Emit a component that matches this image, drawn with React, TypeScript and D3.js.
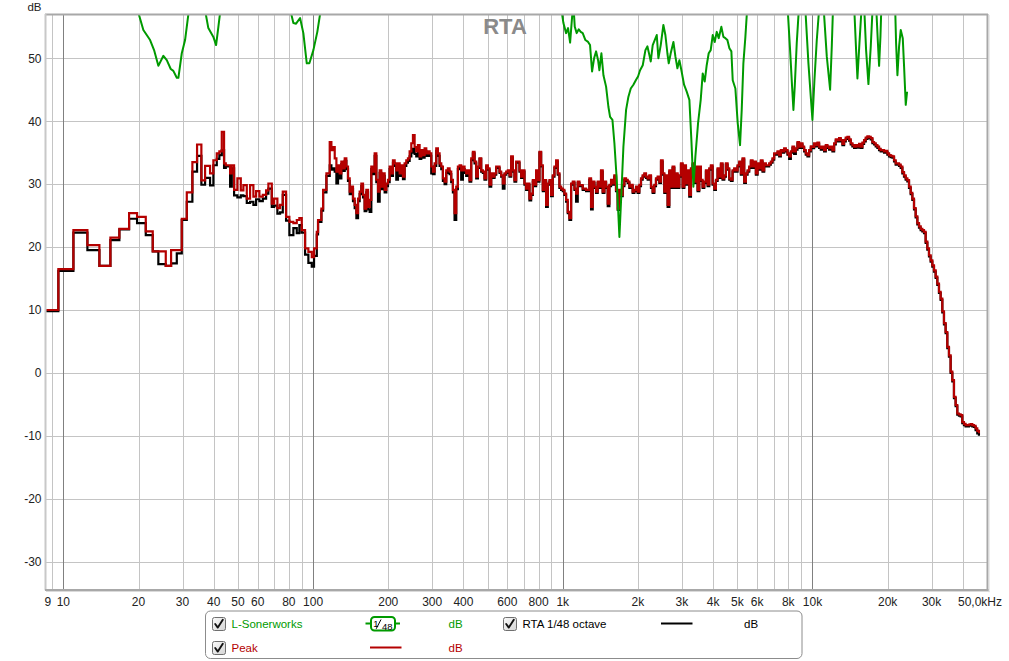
import React from "react";
import * as d3 from "d3";

// ---------- axis definitions ----------
const freqDomain = [8.52, 50000];
const dbDomain = [-34.39, 56.88];
const xTickValues = [9, 10, 20, 30, 40, 50, 60, 80, 100, 200, 300, 400, 600, 800, 1000, 2000, 3000, 4000, 5000, 6000, 8000, 10000, 20000, 30000, 50000];
const xTickLabels = ["9", "10", "20", "30", "40", "50", "60", "80", "100", "200", "300", "400", "600", "800", "1k", "2k", "3k", "4k", "5k", "6k", "8k", "10k", "20k", "30k", "50,0kHz"];
const majorGrid = [10, 100, 1000, 10000];
const minorGrid = [9, 20, 30, 40, 50, 60, 70, 80, 90, 200, 300, 400, 500, 600, 700, 800, 900, 2000, 3000, 4000, 5000, 6000, 7000, 8000, 9000, 20000, 30000, 40000];
const yTicks = [-30, -20, -10, 0, 10, 20, 30, 40, 50];

// ---------- RTA / Peak, low-frequency steps ----------
const lowFreq = [8.53, 9.55, 10.97, 12.48, 13.94, 15.43, 16.76, 18.33, 19.73, 21.38,
  22.8, 24.01, 25.71, 27.0, 28.46, 29.8, 31.21, 32.86, 34.31, 35.7,
  36.94, 38.68, 39.88, 41.15, 42.14, 43.09, 44.01, 44.71, 46.52, 47.25,
  48.27, 49.76, 51.35, 52.59, 54.27, 55.95, 57.68, 59.13, 60.96, 62.9,
  64.84, 66.23, 68.34, 69.81, 71.96, 73.77, 75.63, 77.96, 80.37, 83.39,
  86.04, 88.13, 90.1, 92.88, 95.76, 98.81, 100.9, 103.5];
const lowPeak = [10.0, 16.5, 22.7, 20.3, 17.0, 21.5, 22.9, 25.4, 24.8, 22.5,
  19.3, 19.3, 17.0, 19.5, 19.5, 24.5, 28.7, 33.5, 36.3, 30.6,
  32.9, 31.7, 33.8, 34.9, 35.2, 38.3, 33.3, 33.0, 31.7, 33.0,
  29.1, 30.9, 29.0, 29.85, 27.7, 29.85, 28.0, 28.9, 28.0, 28.3,
  29.0, 30.1, 26.9, 27.7, 26.2, 26.7, 28.8, 24.8, 24.0, 23.8,
  24.3, 24.6, 22.7, 19.8, 19.25, 18.4, 19.8, 22.4];
const lowRta = [9.8, 16.2, 22.3, 19.5, 17.0, 21.1, 22.8, 24.5, 23.8, 21.9,
  19.3, 17.3, 17.0, 17.4, 19.0, 24.3, 27.2, 32.0, 34.5, 29.9,
  31.0, 29.8, 33.0, 34.0, 34.6, 35.4, 32.6, 32.8, 29.6, 32.5,
  28.2, 27.9, 28.2, 28.1, 27.0, 27.2, 26.7, 27.6, 27.3, 27.7,
  28.5, 29.3, 26.4, 26.6, 25.3, 25.5, 28.3, 24.2, 21.9, 23.0,
  22.2, 23.5, 22.3, 18.8, 17.5, 16.9, 18.6, 22.0];

// ---------- RTA / Peak, 104 Hz .. 46 kHz ----------
const bandFreq = [104.7, 106.3, 108.0, 109.7, 111.4, 113.1, 114.8,
  116.6, 118.4, 120.2, 122.1, 124.0, 125.9, 127.8, 129.8, 131.8, 133.9,
  135.9, 138.0, 140.2, 142.3, 144.5, 146.8, 149.1, 151.4, 153.7, 156.1,
  158.5, 160.9, 163.4, 166.0, 168.5, 171.1, 173.8, 176.5, 179.2, 182.0,
  184.8, 187.6, 190.5, 193.5, 196.5, 199.5, 202.6, 205.7, 208.9, 212.2,
  215.4, 218.8, 222.2, 225.6, 229.1, 232.6, 236.2, 239.9, 243.6, 247.4,
  251.2, 255.1, 259.0, 263.0, 267.1, 271.2, 275.4, 279.7, 284.0, 288.4,
  292.9, 297.4, 302.0, 306.7, 311.4, 316.2, 321.1, 326.1, 331.1, 336.3,
  341.5, 346.7, 352.1, 357.5, 363.1, 368.7, 374.4, 380.2, 386.1, 392.0,
  398.1, 404.3, 410.5, 416.9, 423.3, 429.9, 436.5, 443.3, 450.1, 457.1,
  464.2, 471.3, 478.6, 486.0, 493.6, 501.2, 509.0, 516.8, 524.8, 532.9,
  541.2, 549.5, 558.1, 566.7, 575.4, 584.3, 593.4, 602.6, 611.9, 621.4,
  631.0, 640.7, 650.6, 660.7, 670.9, 681.3, 691.8, 702.5, 713.4, 724.4,
  735.6, 747.0, 758.6, 770.3, 782.2, 794.3, 806.6, 819.1, 831.8, 844.6,
  857.7, 871.0, 884.4, 898.1, 912.0, 926.1, 940.4, 955.0, 969.8, 984.8,
  1000, 1015, 1031, 1047, 1063, 1080, 1097, 1114, 1131, 1148,
  1166, 1184, 1202, 1221, 1240, 1259, 1278, 1298, 1318, 1339,
  1359, 1380, 1402, 1423, 1445, 1468, 1491, 1514, 1537, 1561,
  1585, 1609, 1634, 1660, 1685, 1711, 1738, 1765, 1792, 1820,
  1848, 1876, 1905, 1935, 1965, 1995, 2026, 2057, 2089, 2122,
  2154, 2188, 2222, 2256, 2291, 2326, 2362, 2399, 2436, 2474,
  2512, 2551, 2590, 2630, 2671, 2712, 2754, 2797, 2840, 2884,
  2929, 2974, 3020, 3067, 3114, 3162, 3211, 3261, 3311, 3363,
  3415, 3467, 3521, 3575, 3631, 3687, 3744, 3802, 3861, 3920,
  3981, 4043, 4105, 4169, 4233, 4299, 4365, 4433, 4501, 4571,
  4642, 4713, 4786, 4860, 4936, 5012, 5090, 5168, 5248, 5329,
  5412, 5495, 5580, 5667, 5754, 5843, 5934, 6026, 6119, 6213,
  6310, 6407, 6506, 6607, 6709, 6813, 6918, 7025, 7134, 7244,
  7356, 7470, 7586, 7703, 7822, 7943, 8066, 8191, 8318, 8446,
  8577, 8710, 8844, 8981, 9120, 9261, 9404, 9550, 9698, 9848,
  10000, 10155, 10312, 10471, 10634, 10798, 10965, 11135, 11307, 11482,
  11659, 11840, 12023, 12209, 12397, 12589, 12784, 12982, 13183, 13387,
  13594, 13804, 14017, 14234, 14454, 14678, 14905, 15136, 15370, 15608,
  15849, 16094, 16343, 16596, 16853, 17113, 17378, 17647, 17920, 18197,
  18478, 18764, 19055, 19349, 19649, 19953, 20261, 20575, 20893, 21216,
  21544, 21878, 22216, 22560, 22909, 23263, 23623, 23988, 24360, 24737,
  25119, 25508, 25902, 26303, 26710, 27123, 27542, 27968, 28401, 28840,
  29286, 29739, 30200, 30667, 31141, 31623, 32112, 32609, 33113, 33625,
  34145, 34674, 35210, 35754, 36308, 36869, 37439, 38019, 38607, 39204,
  39811, 40427, 41052, 41687, 42332, 42987, 43652, 44327, 45013, 45709,
  46416];
const bandPeak = [24.3, 24.3, 26.1, 29.1, 29.1, 31.7, 31.7,
  36.7, 35.4, 35.9, 34.1, 32.0, 33.0, 31.7, 33.6, 32.5, 34.1,
  32.8, 30.9, 28.8, 29.6, 27.7, 26.7, 25.4, 27.7, 28.8, 30.1,
  28.3, 26.1, 29.1, 26.4, 27.5, 32.8, 32.0, 34.9, 30.7, 28.8,
  32.2, 29.6, 31.7, 29.1, 30.1, 30.7, 32.8, 31.7, 33.8, 33.3,
  32.2, 33.3, 31.7, 33.0, 31.2, 33.3, 33.8, 34.1, 35.2, 36.5,
  37.8, 35.9, 35.2, 36.2, 34.4, 35.4, 34.6, 35.7, 34.9, 35.2,
  34.9, 32.8, 32.0, 33.3, 35.7, 34.9, 33.3, 32.8, 30.9, 30.4,
  32.2, 32.5, 32.0, 30.7, 29.1, 25.4, 29.6, 32.8, 33.0, 32.2,
  32.8, 32.2, 31.7, 32.2, 30.65, 34.1, 35.15, 33.6, 31.2, 32.8,
  34.1, 32.2, 32.0, 30.9, 33.0, 32.5, 29.9, 31.7, 31.2, 31.7,
  32.8, 32.8, 32.0, 31.4, 30.1, 31.7, 32.0, 32.2, 31.4, 34.4,
  32.2, 30.65, 33.6, 33.6, 32.2, 31.2, 32.2, 30.1, 29.3, 30.1,
  27.7, 28.5, 30.65, 29.9, 32.2, 30.65, 35.15, 33.0, 29.1, 30.65,
  26.7, 30.1, 30.65, 28.3, 31.4, 32.8, 33.8, 31.7, 29.6, 29.3,
  29.1, 28.5, 27.5, 25.6, 24.6, 30.1, 30.4, 29.3, 28.5, 30.4,
  29.85, 29.85, 29.3, 29.3, 29.1, 29.1, 30.9, 26.4, 30.4, 29.6,
  28.8, 30.4, 29.6, 32.2, 28.8, 30.4, 29.6, 26.9, 29.9, 30.7,
  30.1, 31.4, 29.1, 26.1, 29.1, 28.3, 29.9, 30.9, 30.7, 30.4,
  29.6, 29.9, 28.8, 29.1, 29.6, 28.8, 29.9, 30.9, 31.4, 31.7,
  31.2, 30.9, 31.4, 29.6, 28.8, 29.9, 30.9, 31.2, 30.4, 33.8,
  31.7, 28.8, 31.4, 26.7, 32.2, 29.6, 32.8, 29.6, 31.7, 29.6,
  31.4, 33.3, 29.6, 33.0, 30.1, 32.2, 28.3, 32.5, 33.3, 30.4,
  32.8, 29.1, 32.8, 30.7, 29.6, 30.4, 32.2, 29.9, 32.5, 33.0,
  30.1, 29.3, 30.7, 32.5, 31.2, 33.3, 30.9, 31.4, 33.3, 32.5,
  30.9, 30.7, 32.2, 32.5, 32.2, 33.0, 33.6, 31.7, 34.1, 30.4,
  31.7, 32.2, 32.8, 33.8, 32.8, 33.6, 31.7, 33.3, 32.5, 33.8,
  32.2, 33.3, 33.0, 33.0, 33.3, 33.6, 34.1, 34.9, 34.9, 35.2,
  34.6, 35.4, 35.2, 35.7, 35.4, 34.9, 34.4, 35.2, 35.95, 35.2,
  35.7, 36.7, 35.95, 36.5, 35.95, 35.4, 34.9, 34.6, 35.4, 36.0,
  35.9, 36.5, 36.2, 36.6, 35.95, 35.7, 35.95, 35.4, 36.2, 35.95,
  35.7, 35.95, 35.4, 36.5, 37.1, 37.0, 37.3, 37.0, 36.4, 37.0,
  37.4, 37.5, 37.1, 36.5, 36.2, 35.95, 36.2, 36.0, 36.4, 35.95,
  36.6, 37.0, 37.4, 37.6, 37.5, 37.3, 36.7, 36.5, 36.2, 35.95,
  35.6, 35.4, 35.4, 35.2, 35.3, 34.9, 34.6, 34.5, 34.4, 33.8,
  33.3, 33.3, 33.1, 32.8, 31.9, 31.4, 30.9, 30.65, 29.6, 28.6,
  27.7, 26.2, 24.9, 23.8, 23.3, 22.9, 22.7, 22.4, 20.85, 19.8,
  18.7, 17.9, 17.1, 16.3, 15.3, 14.2, 12.9, 11.8, 9.8, 7.9,
  6.5, 4.15, 2.8, 0.2, -1.15, -3.8, -5.1, -6.45, -6.6, -6.7,
  -7.8, -8.1, -8.3, -8.3, -8.2, -8.15, -8.3, -8.4, -8.8, -9.2,
  -9.6];
const bandRta = [24.0, 24.0, 25.8, 28.7, 28.7, 31.3, 31.3,
  33.0, 32.3, 32.5, 32.0, 30.1, 32.2, 30.9, 33.2, 32.1, 33.7,
  32.4, 30.5, 28.4, 29.2, 27.3, 26.2, 24.6, 27.3, 28.4, 29.7,
  27.9, 25.7, 28.7, 26.0, 25.6, 32.4, 31.6, 34.5, 30.3, 27.2,
  31.8, 29.2, 31.3, 28.7, 29.7, 30.3, 32.4, 31.3, 33.4, 32.9,
  30.7, 32.9, 31.3, 32.6, 30.8, 32.9, 33.4, 33.7, 34.4, 35.0,
  35.6, 34.8, 34.4, 35.4, 34.0, 35.0, 34.2, 35.3, 34.5, 34.8,
  34.5, 31.7, 31.6, 32.9, 35.3, 34.5, 32.9, 32.4, 30.5, 30.0,
  31.8, 32.1, 31.6, 30.3, 28.7, 24.3, 29.2, 32.4, 32.6, 30.7,
  32.4, 31.8, 31.3, 31.8, 30.4, 33.8, 34.9, 33.3, 30.9, 32.6,
  34.0, 32.0, 31.8, 30.7, 32.8, 32.3, 29.6, 31.5, 31.0, 31.5,
  32.6, 32.6, 31.8, 31.2, 29.3, 31.5, 31.8, 32.0, 31.2, 34.2,
  32.0, 30.4, 33.4, 33.4, 32.0, 31.0, 32.0, 29.9, 29.1, 29.9,
  27.4, 28.3, 30.4, 29.7, 32.0, 30.4, 35.0, 32.8, 28.9, 30.4,
  26.4, 29.9, 30.4, 28.1, 31.2, 32.6, 33.6, 31.5, 29.4, 29.1,
  28.9, 28.3, 27.2, 25.4, 24.3, 29.9, 30.2, 29.1, 27.2, 30.2,
  29.7, 29.7, 29.1, 29.1, 28.9, 28.9, 30.7, 26.0, 30.2, 29.4,
  28.6, 30.2, 29.4, 32.0, 28.6, 30.2, 29.4, 26.5, 29.7, 30.5,
  29.9, 31.2, 28.9, 25.9, 28.9, 28.1, 29.7, 30.7, 30.5, 30.2,
  29.4, 29.7, 28.6, 28.9, 29.4, 28.6, 29.7, 30.7, 31.2, 31.5,
  31.0, 30.7, 31.2, 29.4, 28.6, 29.7, 30.7, 31.0, 30.2, 33.6,
  31.5, 28.6, 31.2, 26.4, 32.0, 29.4, 32.6, 29.4, 31.5, 29.4,
  31.2, 33.1, 29.4, 32.8, 29.9, 32.0, 28.0, 32.3, 33.1, 30.2,
  32.6, 28.9, 32.6, 30.5, 29.4, 30.2, 32.0, 29.7, 32.3, 32.8,
  29.9, 29.1, 30.5, 32.3, 31.0, 33.1, 30.7, 31.2, 33.1, 32.3,
  30.7, 30.5, 32.0, 32.3, 32.0, 32.8, 33.4, 31.5, 33.9, 30.2,
  31.5, 32.0, 32.6, 33.6, 32.6, 33.4, 31.5, 33.1, 32.3, 33.6,
  32.0, 33.1, 32.8, 32.8, 33.1, 33.4, 33.9, 34.7, 34.7, 35.0,
  34.4, 35.2, 35.0, 35.5, 35.2, 34.7, 34.0, 35.0, 35.75, 34.8,
  35.5, 36.5, 35.75, 36.3, 35.75, 35.2, 34.7, 34.4, 35.2, 35.8,
  35.7, 36.3, 36.0, 36.4, 35.75, 35.5, 35.75, 35.2, 36.0, 35.75,
  35.5, 35.75, 35.2, 36.3, 36.9, 36.8, 37.1, 36.8, 36.2, 36.8,
  37.2, 37.3, 36.9, 36.3, 36.0, 35.75, 36.0, 35.8, 36.2, 35.75,
  36.4, 36.8, 37.2, 37.4, 37.3, 37.1, 36.5, 36.3, 36.0, 35.75,
  35.4, 35.2, 35.2, 35.0, 35.1, 34.7, 34.4, 34.3, 34.2, 33.6,
  33.1, 33.1, 32.9, 32.6, 31.7, 31.2, 30.7, 30.45, 29.4, 28.4,
  27.5, 26.0, 24.7, 23.6, 23.1, 22.7, 22.5, 22.2, 20.65, 19.6,
  18.5, 17.7, 16.9, 16.1, 15.1, 14.0, 12.7, 11.6, 9.6, 7.7,
  6.3, 3.95, 2.6, 0.0, -1.35, -4.0, -5.3, -6.65, -6.8, -6.9,
  -8.0, -8.3, -8.5, -8.5, -8.4, -8.35, -8.5, -8.6, -9.1, -9.6,
  -10.0];

// ---------- L-Sonerworks (null = gap, curve leaves the top of the plot) ----------
const greenFreq = [19.55, 20.91, 22.25, 23.08, 24.01, 25.15, 25.95, 26.92, 27.57, 28.46, 28.88, 29.8, 30.72, 32.02, 32.02,
  36.6, 38.07, 39.88, 40.89, 41.76, 42.81, 42.81,
  80.15, 83.39, 85.49, 88.7, 91.43, 94.35, 96.64, 100.3, 104.0, 108.1, 108.1,
  981, 1006, 1031, 1050, 1070, 1090, 1103, 1117, 1137, 1159, 1180, 1202, 1232, 1263, 1286, 1310, 1335, 1360, 1385, 1402,
  1428, 1455, 1491, 1523, 1547, 1581, 1610, 1645, 1686, 1717, 1749, 1793, 1832, 1872, 1918, 1966, 2002, 2040, 2091, 2143,
  2182, 2223, 2251, 2292, 2335, 2379, 2415, 2468, 2529, 2576, 2624, 2657, 2706, 2774, 2825, 2878, 2931, 2986, 3060, 3136,
  3214, 3274, 3335, 3397, 3482, 3568, 3635, 3702, 3771, 3841, 3913, 3986, 4060, 4136, 4212, 4317, 4398, 4480, 4563, 4648,
  4734, 4793, 4912, 5019, 5128, 5208, 5288, 5387, 5488, 5488,
  7938, 8136, 8287, 8389, 8492, 8650, 8841, 8841,
  9344, 9635, 9845, 9997, 10183, 10406, 10665, 10665,
  11065, 11411, 11767, 11950, 12097, 12097,
  14680, 14953, 15138, 15420, 15755, 15755,
  16097, 16397, 16754, 17118, 17437, 17437,
  17981, 18260, 18485, 18713, 18887, 18887,
  21423, 21622, 21889, 22228, 22571, 22993, 23276, 23637, 23929];
const greenDb = [58.5, 54.5, 52.9, 51.3, 48.8, 50.4, 49.7, 48.3, 48.0, 46.9, 46.9, 50.8, 52.9, 58.5, null,
  58.5, 54.8, 53.4, 52.1, 55.0, 58.5, null,
  58.5, 55.6, 55.5, 56.4, 54.0, 49.2, 49.2, 51.3, 54.2, 58.5, null,
  58.5, 55.6, 54.0, 54.8, 52.5, 56.6, 58.5, 55.0, 54.0, 54.6, 54.2, 54.0, 52.9, 52.6, 52.1, 47.9, 50.0, 51.1, 49.7, 48.1,
  50.8, 47.3, 45.5, 42.3, 40.7, 40.2, 36.5, 30.7, 21.6, 28.5, 35.9, 41.8, 43.9, 45.2, 45.8, 46.6, 47.1, 48.1, 48.9, 51.3,
  51.9, 50.5, 49.5, 52.1, 52.9, 53.7, 50.0, 52.1, 55.3, 53.7, 50.8, 49.2, 50.8, 52.6, 50.3, 48.4, 49.7, 48.1, 45.8, 44.7,
  43.4, 37.0, 29.6, 34.4, 39.7, 43.4, 47.6, 46.3, 48.9, 50.8, 51.3, 53.7, 52.6, 54.2, 53.2, 55.0, 53.4, 53.2, 52.9, 51.6,
  51.1, 46.5, 45.2, 39.7, 36.2, 41.8, 49.2, 53.4, 58.5, null,
  58.5, 51.3, 45.5, 41.8, 45.5, 52.4, 58.5, null,
  58.5, 49.2, 43.9, 40.2, 46.5, 52.9, 58.5, null,
  58.5, 50.3, 45.0, 51.9, 58.5, null,
  58.5, 51.3, 46.8, 52.4, 58.5, null,
  58.5, 51.3, 45.9, 51.9, 58.5, null,
  58.5, 52.9, 48.8, 53.4, 58.5, null,
  58.5, 52.4, 47.3, 51.9, 54.5, 53.2, 48.7, 42.6, 44.7];

// ---------- legend ----------
const legendNames = ["L-Sonerworks", "Peak", "RTA 1/48 octave"];

const GREEN = "#009a00";
const RED = "#b40000";
const FONT = "'Liberation Sans', Arial, sans-serif";

const PL = 46, PR = 987, PT = 15, PB = 589.3;

function CheckBox({ x, y }) {
  return (
    <g>
      <rect x={x + 0.5} y={y + 0.5} width={13} height={13} rx={2} fill="url(#cbGrad)" stroke="#6f6f6f" strokeWidth={1} />
      <path d={`M${x + 3.2},${y + 7} L${x + 5.8},${y + 10.6} L${x + 10.8},${y + 2.8}`} fill="none" stroke="#111" strokeWidth={1.9} strokeLinecap="round" strokeLinejoin="round" />
    </g>
  );
}

export default function App() {
  const x = d3.scaleLog().domain(freqDomain).range([PL, PR]);
  const y = d3.scaleLinear().domain(dbDomain).range([PB, PT]);

  const rtaFreq = lowFreq.concat(bandFreq);
  const peakDb = lowPeak.concat(bandPeak);
  const rtaDb = lowRta.concat(bandRta);

  const stepLine = d3
    .line()
    .x((_, i) => x(rtaFreq[i]))
    .y((d) => y(d))
    .curve(d3.curveStepAfter);

  const greenLine = d3
    .line()
    .defined((d) => d !== null)
    .x((_, i) => x(greenFreq[i]))
    .y((d) => y(d));

  return (
    <div style={{ position: "absolute", left: 0, top: 0, width: 1009, height: 661, background: "#fff" }}>
      <svg width={1009} height={661} style={{ display: "block" }}>
        <defs>
          <clipPath id="plotClip">
            <rect x={PL} y={PT} width={PR - PL} height={PB - PT} />
          </clipPath>
          <linearGradient id="cbGrad" x1="0" y1="0" x2="1" y2="1">
            <stop offset="0" stopColor="#fbfbfb" />
            <stop offset="1" stopColor="#d4d4d4" />
          </linearGradient>
        </defs>
        <rect x={0} y={0} width={1009} height={661} fill="#fff" />

        {/* plot background */}
        <rect x={PL} y={PT} width={PR - PL} height={PB - PT} fill="#fff" />

        {/* grid */}
        {yTicks.map((v) => (
          <line key={"h" + v} x1={PL} x2={PR} y1={Math.round(y(v)) + 0.5} y2={Math.round(y(v)) + 0.5} stroke="#c4c4c4" strokeWidth={1} />
        ))}
        {minorGrid.map((f) => (
          <line key={"m" + f} x1={Math.round(x(f)) + 0.5} x2={Math.round(x(f)) + 0.5} y1={PT} y2={PB} stroke="#c4c4c4" strokeWidth={1} />
        ))}
        {majorGrid.map((f) => (
          <line key={"M" + f} x1={Math.round(x(f)) + 0.5} x2={Math.round(x(f)) + 0.5} y1={PT} y2={PB} stroke="#808080" strokeWidth={1} />
        ))}

        {/* curves */}
        <g clipPath="url(#plotClip)">
          <path d={stepLine(rtaDb)} fill="none" stroke="#000" strokeWidth={2.2} />
          <path d={stepLine(peakDb)} fill="none" stroke={RED} strokeWidth={2.2} />
          <path d={greenLine(greenDb)} fill="none" stroke={GREEN} strokeWidth={2} strokeLinejoin="round" />
        </g>

        {/* frame */}
        <line x1={PL - 1} x2={PR + 1} y1={PT - 0.5} y2={PT - 0.5} stroke="#a8a8a8" strokeWidth={2} />
        <line x1={PL - 0.5} x2={PL - 0.5} y1={PT - 1} y2={PB + 1} stroke="#c8c8c8" strokeWidth={2} />
        <line x1={PR + 0.5} x2={PR + 0.5} y1={PT - 1} y2={PB + 2} stroke="#a8a8a8" strokeWidth={2} />
        <line x1={PR + 2} x2={PR + 2} y1={PT} y2={PB + 3} stroke="#dadada" strokeWidth={1} />
        <line x1={PL - 1} x2={PR + 1.5} y1={PB + 0.7} y2={PB + 0.7} stroke="#a8a8a8" strokeWidth={2} />
        <line x1={PL} x2={PR + 2.5} y1={PB + 2.2} y2={PB + 2.2} stroke="#dadada" strokeWidth={1} />

        {/* title */}
        <text x={505} y={34} textAnchor="middle" fontFamily={FONT} fontWeight="bold" fontSize={22} fill="#8a8a8a">RTA</text>

        {/* y axis labels */}
        <text x={41.5} y={10.5} textAnchor="end" fontFamily={FONT} fontSize={11.5} fill="#222">dB</text>
        {yTicks.map((v) => (
          <text key={"yl" + v} x={41.5} y={y(v) + 4.3} textAnchor="end" fontFamily={FONT} fontSize={12} fill="#222">{v}</text>
        ))}

        {/* x axis labels */}
        {xTickValues.map((f, i) => {
          const lbl = xTickLabels[i];
          let px = x(f);
          let anchor = "middle";
          if (f === 9) px -= 4;
          if (f === 50000) { px -= 29; anchor = "start"; }
          return (
            <text key={"xl" + f} x={px} y={606} textAnchor={anchor} fontFamily={FONT} fontSize={12} fill="#222">{lbl}</text>
          );
        })}

        {/* legend */}
        <rect x={205.5} y={611} width={596.5} height={47.5} rx={5} fill="#fff" stroke="#8c8c8c" strokeWidth={1} />
        <CheckBox x={212} y={617} />
        <text x={231.5} y={627.5} fontFamily={FONT} fontSize={11.5} fill={GREEN}>{legendNames[0]}</text>
        <line x1={365.5} x2={400} y1={623.5} y2={623.5} stroke={GREEN} strokeWidth={2} />
        <rect x={371} y={617} width={24} height={13.5} rx={3.5} fill="#fff" stroke={GREEN} strokeWidth={2} />
        <text x={373.3} y={626.5} fontFamily={FONT} fontSize={9.5} fill="#000">1</text>
        <line x1={376.2} y1={628.8} x2={381} y2={619.5} stroke="#000" strokeWidth={1} />
        <text x={382} y={629.6} fontFamily={FONT} fontSize={9.5} fill="#000">48</text>
        <text x={448.5} y={627.5} fontFamily={FONT} fontSize={11.5} fill={GREEN}>dB</text>

        <CheckBox x={212} y={641} />
        <text x={231.5} y={651.5} fontFamily={FONT} fontSize={11.5} fill={RED}>{legendNames[1]}</text>
        <line x1={370} x2={401.5} y1={647.5} y2={647.5} stroke={RED} strokeWidth={2} />
        <text x={448.5} y={651.5} fontFamily={FONT} fontSize={11.5} fill={RED}>dB</text>

        <CheckBox x={503} y={617} />
        <text x={522.5} y={627.5} fontFamily={FONT} fontSize={11.5} fill="#000">{legendNames[2]}</text>
        <line x1={661} x2={692.5} y1={623.5} y2={623.5} stroke="#000" strokeWidth={2} />
        <text x={744} y={627.5} fontFamily={FONT} fontSize={11.5} fill="#000">dB</text>
      </svg>
    </div>
  );
}
